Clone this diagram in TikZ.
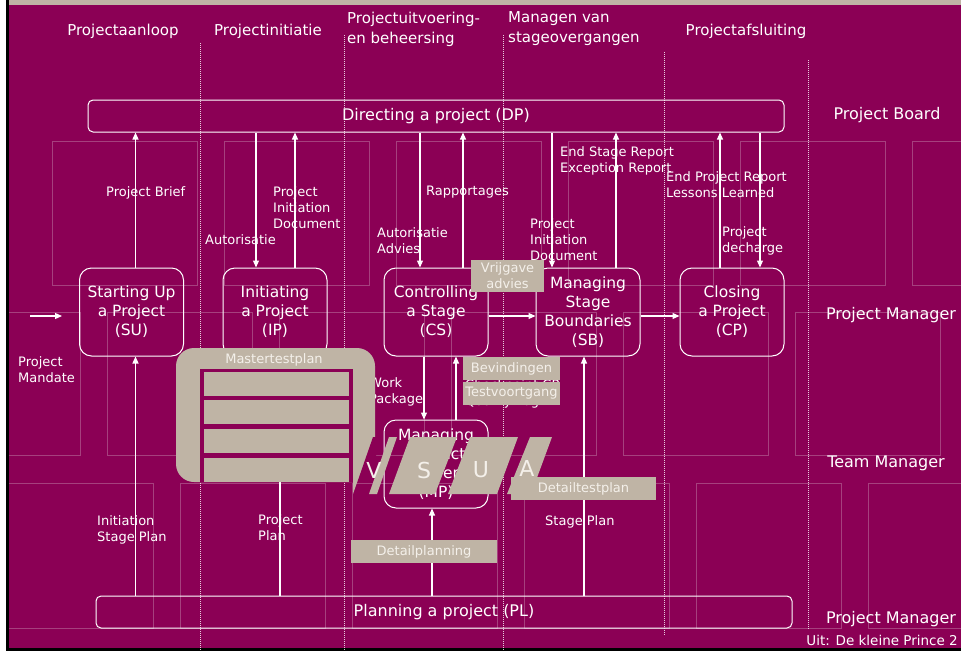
\documentclass[tikz,border=0pt]{standalone}
\usepackage{fontspec}
\setmainfont{DejaVu Sans}
\usetikzlibrary{arrows.meta}
\definecolor{paars}{RGB}{139,0,85}
\definecolor{beige}{RGB}{191,180,165}
\definecolor{rasterkleur}{RGB}{166,64,126}
\definecolor{licht}{RGB}{244,240,234}
\tikzset{
  proces/.style={draw=white, line width=1pt, rounded corners=12pt, minimum width=104pt, minimum height=88pt, align=center, text=white, inner sep=0pt, font=\fontsize{15.5}{19}\selectfont},
  balk/.style={draw=white, line width=1pt, rounded corners=5pt, minimum width=696pt, minimum height=32pt, text=white, font=\fontsize{16}{19}\selectfont},
  pijl/.style={white, line width=1.2pt, -{Triangle[length=7pt,width=6pt]}},
  tekst/.style={text=white, align=left, anchor=west, inner sep=0pt, font=\fontsize{13}{16}\selectfont},
  kop/.style={text=white, align=left, inner sep=0pt, font=\fontsize{15}{20}\selectfont},
  rol/.style={text=white, inner sep=0pt, font=\fontsize{16}{19}\selectfont},
  test/.style={fill=beige, text=licht, inner sep=0pt, minimum height=23pt, font=\fontsize{13}{16}\selectfont},
  letter/.style={text=licht, inner sep=0pt, font=\fontsize{22}{22}\selectfont},
  rooster/.style={draw=rasterkleur, line width=1pt},
  stip/.style={white, line width=0.8pt, dash pattern=on 1pt off 1pt, opacity=0.8},
}
\begin{document}
\begin{tikzpicture}[x=1pt,y=-1pt]
    \useasboundingbox (0,0) rectangle (961,651);
    % Achtergrond
    \fill[white] (0,0) rectangle (6,651);
    \fill[black] (6,0) rectangle (9,651);
    \fill[paars] (9,5) rectangle (961,648);
    \fill[beige] (9,0) rectangle (961,5);
    \fill[black] (9,648) rectangle (961,651);
    % Raster
    \begin{scope}
        \clip (9,5) rectangle (961,648);
        \foreach \x in {52,224,396,568,740,912} \draw[rooster] (\x,141) rectangle ++(145,144);
        \foreach \x in {-65,107,279,451,623,795} \draw[rooster] (\x,312) rectangle ++(145,143);
        \foreach \x in {8,180,352,524,696,868} \draw[rooster] (\x,483) rectangle ++(145,145);
    \end{scope}
    % Fasegrenzen
    \foreach \x/\a/\b in {200/43/651, 344/35/651, 503/35/651, 664/52/635, 808/60/630}
        \draw[stip] (\x,\a) -- (\x,\b);
    % Fasen
    \node[kop] (aanloop) at (123,31) {Projectaanloop};
    \node[kop] (initiatie) at (268,31) {Projectinitiatie};
    \node[kop, anchor=west] (uitvoering) at (347,29) {Projectuitvoering-\\en beheersing};
    \node[kop, anchor=west] (overgang) at (508,29) {Managen van\\stageovergangen};
    \node[kop] (afsluiting) at (746,31) {Projectafsluiting};
    % Rollen
    \node[rol] (board) at (887,115) {Project Board};
    \node[rol] (pm) at (891,315) {Project Manager};
    \node[rol] (tm) at (886,463) {Team Manager};
    \node[rol] (pm2) at (891,619) {Project Manager};
    \node[rol, anchor=east, font=\fontsize{13.5}{16}\selectfont] (bron) at (958,640) {Uit: De kleine Prince 2};
    % Processen
    \node[balk] (dp) at (436,116) {Directing a project (DP)};
    \node[balk] (pl) at (444,612) {Planning a project (PL)};
    \node[proces] (su) at (131.5,312) {Starting Up\\a Project\\(SU)};
    \node[proces] (ip) at (275,312) {Initiating\\a Project\\(IP)};
    \node[proces] (cs) at (436,312) {Controlling\\a Stage\\(CS)};
    \node[proces] (sb) at (588,312) {Managing\\Stage\\Boundaries\\(SB)};
    \node[proces] (cp) at (732,312) {Closing\\a Project\\(CP)};
    \node[proces] (mp) at (436,464) {Managing\\Product\\Delivery\\(MP)};
    % Pijlen
    \coordinate (mandaat) at (30,316);
    \coordinate (mandaat-eind) at (62,316);
    \draw[pijl] (mandaat) -- (mandaat-eind);
    \draw[pijl] ([xshift=4]su.north) -- ([xshift=4]su.north |- dp.south);
    \draw[pijl] ([xshift=-19]ip.north |- dp.south) -- ([xshift=-19]ip.north);
    \draw[pijl] ([xshift=20]ip.north) -- ([xshift=20]ip.north |- dp.south);
    \draw[pijl] ([xshift=-16]cs.north |- dp.south) -- ([xshift=-16]cs.north);
    \draw[pijl] ([xshift=27]cs.north) -- ([xshift=27]cs.north |- dp.south);
    \draw[pijl] ([xshift=-36]sb.north |- dp.south) -- ([xshift=-36]sb.north);
    \draw[pijl] ([xshift=28]sb.north) -- ([xshift=28]sb.north |- dp.south);
    \draw[pijl] ([xshift=-12]cp.north) -- ([xshift=-12]cp.north |- dp.south);
    \draw[pijl] ([xshift=28]cp.north |- dp.south) -- ([xshift=28]cp.north);
    \draw[pijl] ([yshift=-4]cs.east) -- ([yshift=-4]sb.west);
    \draw[pijl] ([yshift=-4]sb.east) -- ([yshift=-4]cp.west);
    \draw[pijl] ([xshift=-12]cs.south) -- ([xshift=-12]mp.north);
    \draw[pijl] ([xshift=20]mp.north) -- ([xshift=20]cs.south);
    \draw[pijl] ([xshift=4]su.south |- pl.north) -- ([xshift=4]su.south);
    \draw[pijl] ([xshift=5]ip.south |- pl.north) -- ([xshift=5]ip.south);
    \draw[pijl] ([xshift=-4]mp.south |- pl.north) -- ([xshift=-4]mp.south);
    \draw[pijl] ([xshift=-4]sb.south |- pl.north) -- ([xshift=-4]sb.south);
    % Producten
    \node[tekst] (brief) at (106,193) {Project Brief};
    \node[tekst] (aut-ip) at (205,240) {Autorisatie};
    \node[tekst] (pid-ip) at (273,208) {Project\\Initiation\\Document};
    \node[tekst] (aut-cs) at (377,241) {Autorisatie\\Advies};
    \node[tekst] (rapport) at (426,192) {Rapportages};
    \node[tekst] (pid-sb) at (530,240) {Project\\Initiation\\Document};
    \node[tekst] (esr) at (560,161) {End Stage Report\\Exception Report};
    \node[tekst] (epr) at (666,185) {End Project Report\\Lessons Learned};
    \node[tekst] (decharge) at (722,241) {Project\\decharge};
    \node[tekst] (mandaat-tekst) at (18,370) {Project\\Mandate};
    \node[tekst] (wp) at (369,392) {Work\\Package};
    \node[tekst] (cpql) at (465,394) {Checkpoint CP\\Quality Log};
    \node[tekst] (isp) at (97,530) {Initiation\\Stage Plan};
    \node[tekst] (pp) at (258,528) {Project\\Plan};
    \node[tekst] (sp) at (545,522) {Stage Plan};
    % Testplan
    \fill[beige, rounded corners=18pt] (176,348) rectangle (375,482);
    \fill[paars] (373,437) -- (376,437) -- (376,482.5) -- (357.2,482.5) -- cycle;
    \fill[beige] (353,482) -- (357.2,482) -- (353,494) -- cycle;
    \fill[paars] (200,369) rectangle (353,482);
    \foreach \y in {372,400,429,458} \fill[beige] (204,\y) rectangle ++(145,24);
    \node[text=licht, font=\fontsize{13}{16}\selectfont] (master) at (274,360) {Mastertestplan};
    % VSUA
    \fill[beige] (369,494) -- (377,494) -- (397,437) -- (389,437) -- cycle;
    \fill[beige] (389,494) -- (435,494) -- (457,437) -- (410,437) -- cycle;
    \fill[beige] (448,494) -- (497,494) -- (518,437) -- (470,437) -- cycle;
    \fill[beige] (507,494) -- (531,494) -- (552,437) -- (530,437) -- cycle;
    \node[letter] (v) at (374,470) {V};
    \node[letter] (s) at (424,470) {S};
    \node[letter] (u) at (481,470) {U};
    \node[letter] (a) at (527,468) {A};
    % Testproducten
    \node[test, minimum width=145pt] (detailtest) at (583.5,488.5) {Detailtestplan};
    \node[test, minimum width=146pt] (detailplan) at (424,551.5) {Detailplanning};
    \node[test, minimum width=73pt, minimum height=32pt, align=center] (vrijgave) at (507.5,276) {Vrijgave\\advies};
    \node[test, minimum width=97pt] (bevind) at (511.5,368.5) {Bevindingen};
    \node[test, minimum width=97pt] (voortgang) at (511.5,393.5) {Testvoortgang};
\end{tikzpicture}
\end{document}
